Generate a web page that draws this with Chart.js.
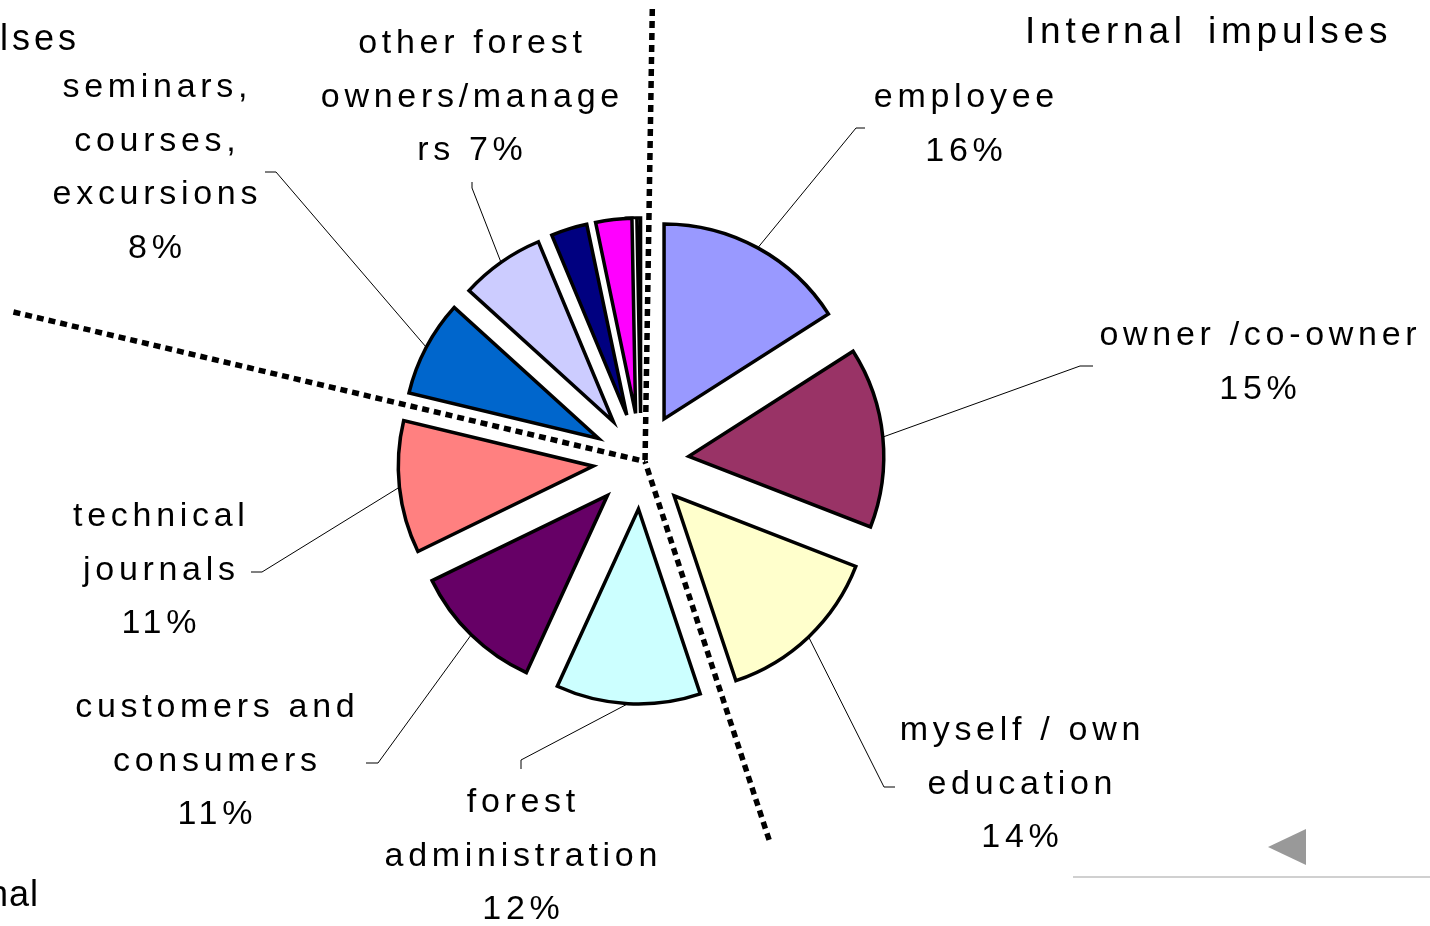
<!DOCTYPE html>
<html>
<head>
<meta charset="utf-8">
<title>Sources of impulses</title>
<script src="https://cdn.jsdelivr.net/npm/chart.js@4.4.1/dist/chart.umd.min.js"></script>
<style>
  html, body { margin: 0; padding: 0; background: #fff; overflow: hidden; }
  canvas { display: block; }
</style>
</head>
<body>
<canvas id="pie" width="1430" height="926"></canvas>
<script>
// slices, clockwise from 12 o'clock
const SOURCES = [
  'employee', 'owner /co-owner', 'myself / own education', 'forest administration',
  'customers and consumers', 'technical journals', 'seminars, courses, excursions',
  'other forest owners/managers', '', '', '',
];
const SHARES = [16, 15, 14, 12, 11, 11, 8, 7, 3, 3, 0.3];
const COLORS = [
  '#9999ff', '#993366', '#ffffcc', '#ccffff', '#660066', '#ff8080',
  '#0066cc', '#ccccff', '#000080', '#ff00ff', '#c0c0c0',
];

// label text broken the way it wraps on the slide; {p} becomes the share
const LABEL_LINES = [
  ['employee', '{p}'],
  ['owner /co-owner', '{p}'],
  ['myself / own', 'education', '{p}'],
  ['forest', 'administration', '{p}'],
  ['customers and', 'consumers', '{p}'],
  ['technical', 'journals', '{p}'],
  ['seminars,', 'courses,', 'excursions', '{p}'],
  ['other forest', 'owners/manage', 'rs {p}'],
  null, null, null,
];

// slices where a new group of impulses begins (dotted dividers)
const GROUP_STARTS = [0, 3, 6];

// ---- layout ----
const EXPLODE = 48;
const RADIUS = 195;
const LINE_GAP = 53.5;
const LABEL_FONT = '34px "Liberation Sans", Arial, sans-serif';
const LABEL_SPACING = 4.7;

const LABEL_BOX = [
  { x: 964, y: 107, bend: [856, 128], end: [865, 128] },
  { x: 1258, y: 345, bend: [1080, 366], end: [1093, 366] },
  { x: 1020, y: 740, bend: [884, 787], end: [895, 787] },
  { x: 521, y: 812, bend: [521, 760], end: [521, 769] },
  { x: 215, y: 717, bend: [378, 763], end: [366, 763] },
  { x: 159, y: 526, bend: [262, 572], end: [251, 572] },
  { x: 155, y: 97, bend: [276, 172], end: [265, 172] },
  { x: 470, y: 53, bend: [472, 188], end: [472, 182] },
];
const DIVIDER_LENGTHS = [452, 400, 645];

let pieCenter = { x: 0, y: 0 };

// push every slice outward along its own bisector
const explode = {
  id: 'explode',
  afterDatasetUpdate(chart, { meta }) {
    if (!meta.data.length) return;
    pieCenter = { x: meta.data[0].x, y: meta.data[0].y };
    meta.data.forEach((arc) => {
      const mid = (arc.startAngle + arc.endAngle) / 2;
      arc.x = pieCenter.x + Math.cos(mid) * EXPLODE;
      arc.y = pieCenter.y + Math.sin(mid) * EXPLODE;
    });
  },
};

function drawDividers(ctx, arcs) {
  const lines = GROUP_STARTS.map((idx, k) => {
    const after = arcs[idx];
    const before = arcs[(idx - 1 + arcs.length) % arcs.length];
    const dir = [Math.cos(after.startAngle), Math.sin(after.startAngle)];
    const normal = [-dir[1], dir[0]];
    // middle of the gap between the two neighbouring slices
    const dx = (after.x + before.x) / 2 - pieCenter.x;
    const dy = (after.y + before.y) / 2 - pieCenter.y;
    const shift = dx * normal[0] + dy * normal[1];
    const start = [pieCenter.x + normal[0] * shift, pieCenter.y + normal[1] * shift];
    const len = DIVIDER_LENGTHS[k];
    return { start, end: [start[0] + dir[0] * len, start[1] + dir[1] * len] };
  });
  const hub = [
    lines.reduce((s, l) => s + l.start[0], 0) / lines.length,
    lines.reduce((s, l) => s + l.start[1], 0) / lines.length,
  ];
  ctx.save();
  ctx.strokeStyle = '#000';
  ctx.lineWidth = 5.5;
  ctx.lineCap = 'butt';
  ctx.setLineDash([7, 5]);
  lines.forEach((l) => {
    ctx.beginPath();
    ctx.moveTo(l.end[0], l.end[1]);
    ctx.lineTo(hub[0], hub[1]);
    ctx.stroke();
  });
  ctx.restore();
}

function drawLabels(ctx, arcs) {
  ctx.save();
  arcs.forEach((arc, i) => {
    const lines = LABEL_LINES[i];
    const box = LABEL_BOX[i];
    if (!lines || !box) return;
    const mid = (arc.startAngle + arc.endAngle) / 2;
    ctx.strokeStyle = '#000';
    ctx.lineWidth = 1;
    ctx.beginPath();
    ctx.moveTo(arc.x + Math.cos(mid) * arc.outerRadius, arc.y + Math.sin(mid) * arc.outerRadius);
    ctx.lineTo(box.bend[0], box.bend[1]);
    ctx.lineTo(box.end[0], box.end[1]);
    ctx.stroke();

    ctx.fillStyle = '#000';
    ctx.font = LABEL_FONT;
    ctx.letterSpacing = LABEL_SPACING + 'px';
    ctx.textAlign = 'center';
    ctx.textBaseline = 'alphabetic';
    lines.forEach((ln, k) => {
      const text = ln.replace('{p}', SHARES[i] + '%');
      ctx.fillText(text, box.x + LABEL_SPACING / 2, box.y + k * LINE_GAP);
    });
  });
  ctx.restore();
}

function drawHeadings(ctx) {
  ctx.save();
  ctx.fillStyle = '#000';
  ctx.textBaseline = 'alphabetic';
  ctx.font = '37px "Liberation Sans", Arial, sans-serif';
  ctx.letterSpacing = '4.8px';
  ctx.wordSpacing = '6px';
  ctx.textAlign = 'left';
  ctx.fillText('Internal impulses', 1025, 43);

  ctx.font = '36px "Liberation Sans", Arial, sans-serif';
  ctx.wordSpacing = '0px';
  ctx.textAlign = 'right';
  ctx.letterSpacing = '4px';
  ctx.fillText('External impulses', 80, 50);
  ctx.letterSpacing = '1px';
  ctx.fillText('External', 39, 906);

  // slide navigation arrow and rule
  ctx.fillStyle = '#999999';
  ctx.beginPath();
  ctx.moveTo(1268, 847);
  ctx.lineTo(1306, 829);
  ctx.lineTo(1306, 865);
  ctx.closePath();
  ctx.fill();
  ctx.strokeStyle = '#d0d0d0';
  ctx.lineWidth = 2;
  ctx.beginPath();
  ctx.moveTo(1073, 877);
  ctx.lineTo(1430, 877);
  ctx.stroke();
  ctx.restore();
}

const overlay = {
  id: 'overlay',
  afterDatasetsDraw(chart) {
    const arcs = chart.getDatasetMeta(0).data;
    const ctx = chart.ctx;
    drawDividers(ctx, arcs);
    drawLabels(ctx, arcs);
    drawHeadings(ctx);
  },
};

new Chart(document.getElementById('pie'), {
  type: 'pie',
  data: {
    labels: SOURCES,
    datasets: [
      {
        data: SHARES,
        backgroundColor: COLORS,
        borderColor: '#000',
        borderWidth: 3.5,
        borderJoinStyle: 'miter',
        radius: RADIUS,
        clip: false,
      },
    ],
  },
  options: {
    responsive: false,
    animation: false,
    events: [],
    layout: { padding: { left: 0, top: 0, right: 148, bottom: 4 } },
    plugins: {
      legend: { display: false },
      tooltip: { enabled: false },
    },
  },
  plugins: [explode, overlay],
});
</script>
</body>
</html>
